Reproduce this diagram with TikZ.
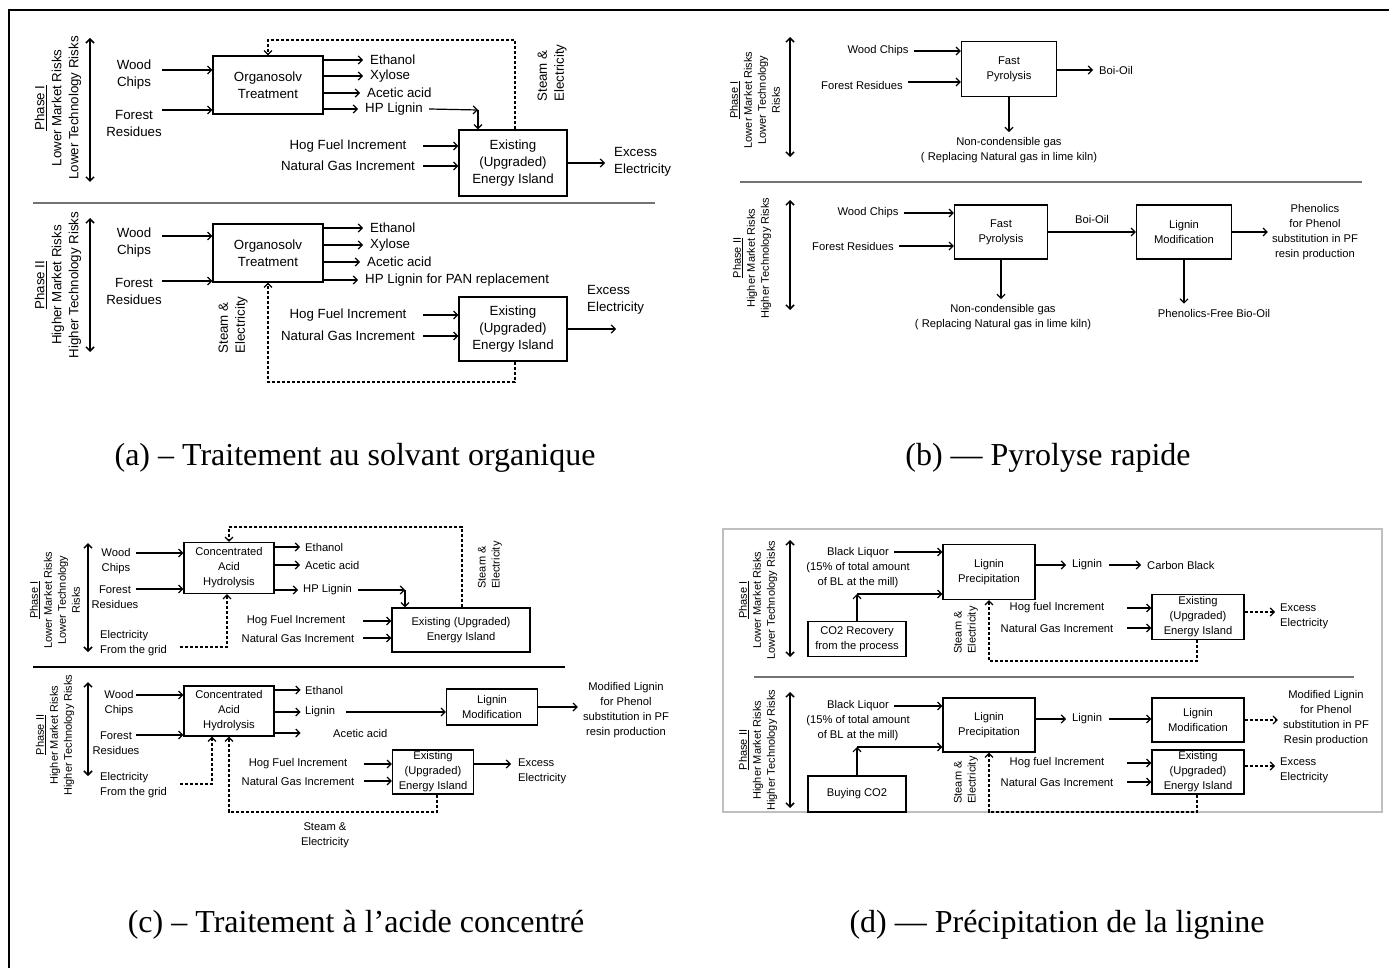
\documentclass[tikz,border=0pt]{standalone}
\usepackage{fontspec}
\setmainfont{Liberation Sans}
\newfontfamily\capfont{Liberation Serif}
\usetikzlibrary{arrows.meta,positioning}
\newcommand{\fsa}{\fontsize{13.3}{17}\selectfont}
\newcommand{\fsb}{\fontsize{11.2}{15}\selectfont}
\newcommand{\fsr}{\fontsize{11}{14}\selectfont}
\newcommand{\fcap}{\capfont\fontsize{32}{37}\selectfont}
\tikzset{
  lbl/.style={align=center, inner sep=1pt},
  ta/.style={lbl, font=\fsa},
  tb/.style={lbl, font=\fsb},
  box/.style={draw, line width=1.2pt, align=center, inner sep=1pt},
  ba/.style={box, font=\fsa},
  bb/.style={box, font=\fsb},
  arr/.style={line width=1.2pt, -{Straight Barb[length=4pt,width=8pt]}},
  dsh/.style={arr, dash pattern=on 3pt off 2pt},
  dbl/.style={line width=1.5pt, {Straight Barb[length=4pt,width=8pt]}-{Straight Barb[length=4pt,width=8pt]}},
  rsk/.style={rotate=90, align=center, inner sep=0pt},
  sep/.style={line width=2pt, black!55},
}
\begin{document}
\begin{tikzpicture}[x=1pt,y=-1pt]
\useasboundingbox (0,0) rectangle (1389,968);
\draw[line width=2.5pt] (9,968) -- (9,10) -- (1389,10);

%% (a) Phase I
\node[rsk,font=\fsa] (aIrisk) at (58,108) {\underline{Phase I}\\Lower Market Risks\\Lower Technology Risks};
\coordinate (aIup) at (90,38);
\coordinate (aIdn) at (90,182);
\draw[dbl] (aIup) -- (aIdn);
\node[ta] (aIwood) at (134,75) {Wood\\Chips};
\node[ta] (aIfor) at (134,123) {Forest\\Residues};
\node[ba,minimum width=110pt,minimum height=58pt] (aIorg) at (268,85) {Organosolv\\Treatment};
\node[ta,anchor=west] (aIeth) at (369,60) {Ethanol};
\node[ta,anchor=west] (aIxyl) at (369,76) {Xylose};
\node[ta,anchor=west] (aIace) at (366,93) {Acetic acid};
\node[ta,anchor=west] (aIhpl) at (364,109) {HP Lignin};
\node[ba,minimum width=108pt,minimum height=66pt] (aIene) at (513,163) {Existing\\(Upgraded)\\Energy Island};
\node[ta] (aIhog) at (348,146) {Hog Fuel Increment};
\node[ta] (aIgas) at (348,166) {Natural Gas Increment};
\node[ta,anchor=west,align=left] (aIexc) at (613,162) {Excess\\Electricity};
\node[rsk,font=\fsa,align=left] (aIstm) at (552,73) {Steam \&\\Electricity};
\coordinate (aIhpc) at (478,110);
\coordinate (aItopd) at (515,40);
\draw[arr] ([xshift=28pt,yshift=5pt]aIwood.center) -- ([yshift=5pt]aIwood.center -| aIorg.west);
\draw[arr] ([xshift=28pt,yshift=13pt]aIfor.center) -- ([yshift=13pt]aIfor.center -| aIorg.west);
\foreach \n in {aIeth,aIxyl,aIace,aIhpl}
  \draw[arr] (\n.west -| aIorg.east) -- ([xshift=-6pt]\n.west);
\draw[arr] ([xshift=5pt]aIhpl.east) -- (aIhpc);
\draw[arr] (aIhpc) -- (aIhpc |- aIene.north);
\draw[arr] ([xshift=-35pt]aIene.west |- aIhog) -- (aIene.west |- aIhog);
\draw[arr] ([xshift=-35pt]aIene.west |- aIgas) -- (aIene.west |- aIgas);
\draw[arr] (aIene.east) -- ([xshift=-8pt]aIexc.west |- aIene.east);
\draw[dsh] (aIene.north -| aItopd) -- (aItopd) -| (aIorg.north);
\draw[sep] (33,203) -- (655,203);

%% (a) Phase II
\node[rsk,font=\fsa] (aIIrisk) at (58,285) {\underline{Phase II}\\Higher Market Risks\\Higher Technology Risks};
\coordinate (aIIup) at (90,218);
\coordinate (aIIdn) at (90,352);
\draw[dbl] (aIIup) -- (aIIdn);
\node[ta] (aIIwood) at (134,243) {Wood\\Chips};
\node[ta] (aIIfor) at (134,291) {Forest\\Residues};
\node[ba,minimum width=110pt,minimum height=58pt] (aIIorg) at (268,253) {Organosolv\\Treatment};
\node[ta,anchor=west] (aIIeth) at (369,228) {Ethanol};
\node[ta,anchor=west] (aIIxyl) at (369,245) {Xylose};
\node[ta,anchor=west] (aIIace) at (366,262) {Acetic acid};
\node[ta,anchor=west] (aIIhpl) at (364,280) {HP Lignin for PAN replacement};
\node[ba,minimum width=108pt,minimum height=64pt] (aIIene) at (513,329) {Existing\\(Upgraded)\\Energy Island};
\node[ta] (aIIhog) at (348,315) {Hog Fuel Increment};
\node[ta] (aIIgas) at (348,336) {Natural Gas Increment};
\node[ta,anchor=west,align=left] (aIIexc) at (586,300) {Excess\\Electricity};
\node[rsk,font=\fsa,align=left] (aIIstm) at (233,325) {Steam \&\\Electricity};
\coordinate (aIIexe) at (616,329);
\coordinate (aIIsb) at (515,382);
\draw[arr] ([xshift=28pt,yshift=7pt]aIIwood.center) -- ([yshift=7pt]aIIwood.center -| aIIorg.west);
\draw[arr] ([xshift=28pt,yshift=10pt]aIIfor.center) -- ([yshift=10pt]aIIfor.center -| aIIorg.west);
\foreach \n in {aIIeth,aIIxyl,aIIace,aIIhpl}
  \draw[arr] (\n.west -| aIIorg.east) -- ([xshift=-6pt]\n.west);
\draw[arr] ([xshift=-35pt]aIIene.west |- aIIhog) -- (aIIene.west |- aIIhog);
\draw[arr] ([xshift=-35pt]aIIene.west |- aIIgas) -- (aIIene.west |- aIIgas);
\draw[arr] (aIIene.east) -- (aIIexe);
\draw[dsh] (aIIene.south -| aIIsb) -- (aIIsb) -| (aIIorg.south);
\node[font=\fcap] (aCap) at (355,458) {(a) – Traitement au solvant organique};

%% (b) Phase I
\node[rsk,font=\fsr] (bIrisk) at (755,100) {\underline{Phase I}\\Lower Market Risks\\Lower Technology\\Risks};
\coordinate (bIup) at (790,37);
\coordinate (bIdn) at (790,157);
\draw[dbl] (bIup) -- (bIdn);
\node[tb] (bIwood) at (878,51) {Wood Chips};
\node[tb] (bIfor) at (862,85) {Forest Residues};
\node[bb,minimum width=95pt,minimum height=55pt] (bIfp) at (1009,69) {Fast\\Pyrolysis};
\node[tb,anchor=west] (bIoil) at (1098,70) {Boi-Oil};
\node[tb] (bIncg) at (1009,150) {Non-condensible gas\\( Replacing Natural gas in lime kiln)};
\draw[arr] ([xshift=4pt]bIwood.east) -- (bIwood -| bIfp.west);
\draw[arr] ([xshift=4pt,yshift=3pt]bIfor.east) -- ([yshift=3pt]bIfor.east -| bIfp.west);
\draw[arr] (bIoil -| bIfp.east) -- ([xshift=-5pt]bIoil.west);
\draw[arr] (bIfp.south) -- ([yshift=4pt]bIncg.north);
\draw[sep] (740,182) -- (1362,182);

%% (b) Phase II
\node[rsk,font=\fsr] (bIIrisk) at (752,258) {\underline{Phase II}\\Higher Market Risks\\Higher Technology Risks};
\coordinate (bIIup) at (790,200);
\coordinate (bIIdn) at (790,310);
\draw[dbl] (bIIup) -- (bIIdn);
\node[tb] (bIIwood) at (868,213) {Wood Chips};
\node[tb] (bIIfor) at (853,246) {Forest Residues};
\node[bb,minimum width=93pt,minimum height=54pt] (bIIfp) at (1001,232) {Fast\\Pyrolysis};
\node[bb,minimum width=95pt,minimum height=54pt] (bIIlm) at (1184,232) {Lignin\\Modification};
\node[tb] (bIIphe) at (1315,232) {Phenolics\\for Phenol\\substitution in PF\\resin production};
\node[tb] (bIIncg) at (1003,317) {Non-condensible gas\\( Replacing Natural gas in lime kiln)};
\node[tb] (bIIpfb) at (1214,313) {Phenolics-Free Bio-Oil};
\draw[arr] ([xshift=4pt]bIIwood.east) -- (bIIwood -| bIIfp.west);
\draw[arr] ([xshift=4pt]bIIfor.east) -- (bIIfor -| bIIfp.west);
\draw[arr] (bIIfp.east) -- node[tb,above=7pt] (bIIoil) {Boi-Oil} (bIIlm.west);
\draw[arr] (bIIlm.east) -- ([xshift=-3pt]bIIphe.west |- bIIlm.east);
\draw[arr] (bIIfp.south) -- ([yshift=4pt]bIIfp.south |- bIIncg.north);
\draw[arr] (bIIlm.south) -- ([yshift=4pt]bIIlm.south |- bIIpfb.north);
\node[font=\fcap] (bCap) at (1048,458) {(b) — Pyrolyse rapide};

%% (c) Phase I
\node[rsk,font=\fsr] (cIrisk) at (55,600) {\underline{Phase I}\\Lower Market Risks\\Lower Technology\\Risks};
\coordinate (cIup) at (88,543);
\coordinate (cIdn) at (88,652);
\draw[dbl] (cIup) -- (cIdn);
\node[tb] (cIwood) at (116,561) {Wood\\Chips};
\node[tb] (cIfor) at (115,597) {Forest\\Residues};
\node[bb,minimum width=90pt,minimum height=51pt] (cIcah) at (229,568) {Concentrated\\Acid\\Hydrolysis};
\node[tb,anchor=west] (cIeth) at (304,547) {Ethanol};
\node[tb,anchor=west] (cIace) at (304,565) {Acetic acid};
\node[tb,anchor=west] (cIhpl) at (302,590) {HP Lignin};
\node[tb,anchor=west,align=left] (cIelec) at (99,643) {Electricity\\From the grid};
\node[tb] (cIhog) at (296,621) {Hog Fuel Increment};
\node[tb] (cIgas) at (298,638) {Natural Gas Increment};
\node[bb,minimum width=138pt,minimum height=44pt] (cIene) at (461,630) {Existing (Upgraded)\\Energy Island};
\node[rsk,font=\fsr,align=left] (cIstm) at (490,565) {Steam \&\\Electricity};
\coordinate (cIhpc) at (405,590);
\coordinate (cIec) at (227,647);
\coordinate (cItopd) at (462,527);
\draw[arr] ([xshift=20pt,yshift=8pt]cIwood.center) -- ([yshift=8pt]cIwood.center -| cIcah.west);
\draw[arr] ([xshift=21pt,yshift=8pt]cIfor.center) -- ([yshift=8pt]cIfor.center -| cIcah.west);
\foreach \n in {cIeth,cIace,cIhpl}
  \draw[arr] (\n.west -| cIcah.east) -- ([xshift=-4pt]\n.west);
\draw[arr] ([xshift=5pt]cIhpl.east) -- (cIhpc);
\draw[arr] (cIhpc) -- (cIhpc |- cIene.north);
\draw[dsh] ([xshift=12pt]cIelec.east |- cIec) -- (cIec) -- (cIec |- cIcah.south);
\draw[arr] ([xshift=-28pt]cIene.west |- cIhog) -- (cIene.west |- cIhog);
\draw[arr] ([xshift=-28pt]cIene.west |- cIgas) -- (cIene.west |- cIgas);
\draw[dsh] (cIene.north -| cItopd) -- (cItopd) -| (cIcah.north);
\draw[line width=1.2pt] (33,667) -- (565,667);

%% (c) Phase II
\node[rsk,font=\fsr] (cIIrisk) at (55,735) {\underline{Phase II}\\Higher Market Risks\\Higher Technology Risks};
\coordinate (cIIup) at (88,682);
\coordinate (cIIdn) at (88,776);
\draw[dbl] (cIIup) -- (cIIdn);
\node[tb] (cIIwood) at (119,703) {Wood\\Chips};
\node[tb] (cIIfor) at (116,743) {Forest\\Residues};
\node[bb,minimum width=90pt,minimum height=50pt] (cIIcah) at (229,711) {Concentrated\\Acid\\Hydrolysis};
\node[tb,anchor=west] (cIIeth) at (304,690) {Ethanol};
\node[tb,anchor=west] (cIIlig) at (304,712) {Lignin};
\node[tb,anchor=west] (cIIace) at (332,733) {Acetic acid};
\node[bb,minimum width=91pt,minimum height=36pt] (cIIlm) at (492,707) {Lignin\\Modification};
\node[tb] (cIImod) at (626,710) {Modified Lignin\\for Phenol\\substitution in PF\\resin production};
\node[tb,anchor=west,align=left] (cIIelec) at (99,785) {Electricity\\From the grid};
\node[tb] (cIIhog) at (298,764) {Hog Fuel Increment};
\node[tb] (cIIgas) at (298,781) {Natural Gas Increment};
\node[bb,minimum width=81pt,minimum height=44pt] (cIIene) at (433,772) {Existing\\(Upgraded)\\Energy Island};
\node[tb,anchor=west,align=left] (cIIexc) at (517,771) {Excess\\Electricity};
\node[tb] (cIIstm) at (325,835) {Steam \&\\Electricity};
\coordinate (cIIec) at (212,784);
\coordinate (cIIsb) at (437,812);
\draw[arr] ([xshift=17pt,yshift=8pt]cIIwood.center) -- ([yshift=8pt]cIIwood.center -| cIIcah.west);
\draw[arr] ([xshift=20pt,yshift=8pt]cIIfor.center) -- ([yshift=8pt]cIIfor.center -| cIIcah.west);
\foreach \n in {cIIeth,cIIlig,cIIace}
  \draw[arr] (\n.west -| cIIcah.east) -- ([xshift=26pt]\n.west -| cIIcah.east);
\draw[arr] ([xshift=10pt]cIIlig.east) -- (cIIlig -| cIIlm.west);
\draw[arr] (cIIlm.east) -- ([xshift=-4pt]cIImod.west |- cIIlm.east);
\draw[dsh] ([xshift=12pt]cIIelec.east |- cIIec) -- (cIIec) -- (cIIec |- cIIcah.south);
\draw[arr] ([xshift=-28pt]cIIene.west |- cIIhog) -- (cIIene.west |- cIIhog);
\draw[arr] ([xshift=-28pt]cIIene.west |- cIIgas) -- (cIIene.west |- cIIgas);
\draw[arr] (cIIene.east |- cIIhog) -- ([xshift=-6pt]cIIexc.west |- cIIhog);
\draw[dsh] (cIIene.south -| cIIsb) -- (cIIsb) -| (cIIcah.south);
\node[font=\fcap] (cCap) at (356,925) {(c) – Traitement à l’acide concentré};

%% (d) frame
\draw[black!25, line width=1.2pt] (723,529) rectangle (1382,812);

%% (d) Phase I
\node[rsk,font=\fsr] (dIrisk) at (758,600) {\underline{Phase I}\\Lower Market Risks\\Lower Technology Risks};
\coordinate (dIup) at (790,540);
\coordinate (dIdn) at (790,657);
\draw[dbl] (dIup) -- (dIdn);
\node[tb] (dIbl) at (858,568) {Black Liquor\\(15\% of total amount\\of BL at the mill)};
\node[bb,minimum width=92pt,minimum height=55pt] (dIlp) at (989,572) {Lignin\\Precipitation};
\node[bb,minimum width=98pt,minimum height=35pt] (dIco) at (857,639) {CO2 Recovery\\from the process};
\node[tb,anchor=west] (dIlig) at (1071,565) {Lignin};
\node[tb,anchor=west] (dIcb) at (1146,565) {Carbon Black};
\node[tb] (dIhog) at (1057,608) {Hog fuel Increment};
\node[tb] (dIgas) at (1057,628) {Natural Gas Increment};
\node[bb,minimum width=92pt,minimum height=45pt] (dIene) at (1198,617) {Existing\\(Upgraded)\\Energy Island};
\node[tb,anchor=west,align=left] (dIexc) at (1279,616) {Excess\\Electricity};
\node[rsk,font=\fsr,align=left] (dIstm) at (966,630) {Steam \&\\Electricity};
\coordinate (dIbla) at ([yshift=16pt]dIbl.center -| dIlp.west);
\coordinate (dIj) at (857,594);
\coordinate (dIsb) at (1197,661);
\draw[arr] ([xshift=-48pt]dIbla) -- (dIbla);
\draw[arr] (dIco.north) -- (dIj);
\draw[arr] (dIj) -- (dIj -| dIlp.west);
\draw[arr] (dIlig.west -| dIlp.east) -- ([xshift=-5pt]dIlig.west);
\draw[arr] ([xshift=6pt]dIlig.east) -- ([xshift=-5pt]dIcb.west);
\draw[arr] ([xshift=-24pt]dIene.west |- dIhog) -- (dIene.west |- dIhog);
\draw[arr] ([xshift=-24pt]dIene.west |- dIgas) -- (dIene.west |- dIgas);
\draw[dsh] ([yshift=5pt]dIene.east) -- ([xshift=-4pt,yshift=5pt]dIene.east -| dIexc.west);
\draw[dsh] (dIene.south -| dIsb) -- (dIsb) -| (dIlp.south);
\draw[sep] (754,677) -- (1354,677);

%% (d) Phase II
\node[rsk,font=\fsr] (dIIrisk) at (758,750) {\underline{Phase II}\\Higher Market Risks\\Higher Technology Risks};
\coordinate (dIIup) at (790,692);
\coordinate (dIIdn) at (790,808);
\draw[dbl] (dIIup) -- (dIIdn);
\node[tb] (dIIbl) at (858,721) {Black Liquor\\(15\% of total amount\\of BL at the mill)};
\node[bb,minimum width=92pt,minimum height=54pt] (dIIlp) at (989,725) {Lignin\\Precipitation};
\node[bb,minimum width=98pt,minimum height=36pt] (dIIco) at (857,794) {Buying CO2};
\node[tb,anchor=west] (dIIlig) at (1071,719) {Lignin};
\node[bb,minimum width=92pt,minimum height=44pt] (dIIlm) at (1198,720) {Lignin\\Modification};
\node[tb] (dIImod) at (1326,718) {Modified Lignin\\for Phenol\\substitution in PF\\Resin production};
\node[tb] (dIIhog) at (1057,763) {Hog fuel Increment};
\node[tb] (dIIgas) at (1057,782) {Natural Gas Increment};
\node[bb,minimum width=92pt,minimum height=44pt] (dIIene) at (1198,772) {Existing\\(Upgraded)\\Energy Island};
\node[tb,anchor=west,align=left] (dIIexc) at (1279,770) {Excess\\Electricity};
\node[rsk,font=\fsr,align=left] (dIIstm) at (966,780) {Steam \&\\Electricity};
\coordinate (dIIbla) at ([yshift=15pt]dIIbl.center -| dIIlp.west);
\coordinate (dIIj) at (857,747);
\coordinate (dIIsb) at (1197,812);
\draw[arr] ([xshift=-48pt]dIIbla) -- (dIIbla);
\draw[arr] (dIIco.north) -- (dIIj);
\draw[arr] (dIIj) -- (dIIj -| dIIlp.west);
\draw[arr] (dIIlig.west -| dIIlp.east) -- ([xshift=-5pt]dIIlig.west);
\draw[arr] ([xshift=6pt]dIIlig.east) -- (dIIlig -| dIIlm.west);
\draw[dsh] (dIIlm.east) -- ([xshift=-4pt]dIImod.west |- dIIlm.east);
\draw[arr] ([xshift=-24pt]dIIene.west |- dIIhog) -- (dIIene.west |- dIIhog);
\draw[arr] ([xshift=-24pt]dIIene.west |- dIIgas) -- (dIIene.west |- dIIgas);
\draw[dsh] ([yshift=6pt]dIIene.east) -- ([xshift=-4pt,yshift=6pt]dIIene.east -| dIIexc.west);
\draw[dsh] (dIIene.south -| dIIsb) -- (dIIsb) -| (dIIlp.south);
\node[font=\fcap] (dCap) at (1057,925) {(d) — Précipitation de la lignine};
\end{tikzpicture}
\end{document}
